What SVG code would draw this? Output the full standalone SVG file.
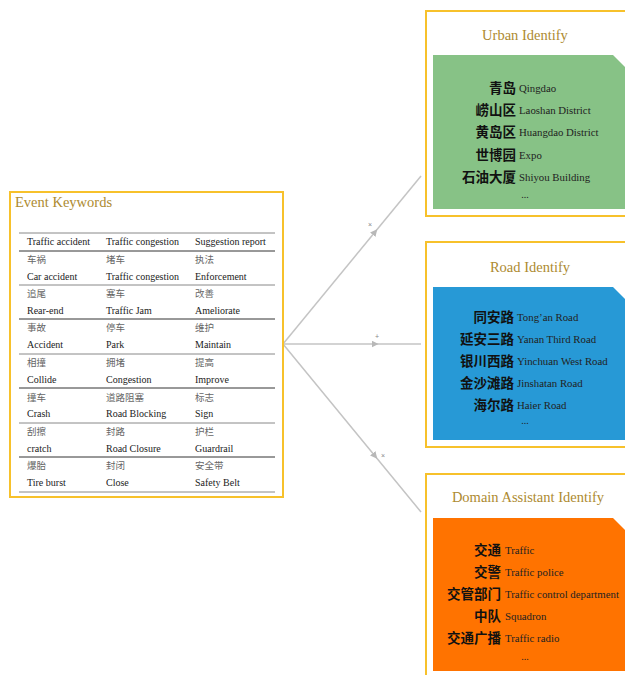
<svg xmlns="http://www.w3.org/2000/svg" width="625" height="675" viewBox="0 0 625 675">
<defs>
<style>
.frame{fill:#fff;stroke:#F7C12B;stroke-width:2}
.title{font-family:"Liberation Serif","Noto Sans CJK SC",serif;font-size:14.5px;fill:#AD8A30}
.th{font-family:"Liberation Serif","Noto Sans CJK SC",serif;font-size:10px;fill:#222}
.tc{font-family:"Noto Sans CJK SC",sans-serif;font-size:9.5px;fill:#666}
.rd{stroke:#333;stroke-width:1}
.rl{stroke:#888;stroke-width:1}
.cn{font-family:"Noto Sans CJK SC",sans-serif;font-weight:bold;font-size:13.5px;fill:#111;text-anchor:end}
.en{font-family:"Liberation Serif","Noto Sans CJK SC",serif;font-size:10.8px;fill:#222}
.dots{font-family:"Liberation Serif",serif;font-size:10px;fill:#222;text-anchor:middle}
.conn{fill:none;stroke:#C4C4C4;stroke-width:1.5}
.mk{font-family:"Liberation Sans",sans-serif;font-size:7px;fill:#888;text-anchor:middle}
</style>
<marker id="arr" viewBox="0 0 10 10" refX="5" refY="5" markerWidth="7" markerHeight="7" orient="auto" markerUnits="userSpaceOnUse">
<path d="M0,0 L10,5 L0,10 z" fill="#B8B8B8"/>
</marker>
</defs>
<rect width="625" height="675" fill="#fff"/>

<g id="connectors">
<path class="conn" d="M283,344 L375,232 L421,176" marker-mid="url(#arr)"/>
<path class="conn" d="M283,344 L375,344 L421,344" marker-mid="url(#arr)"/>
<path class="conn" d="M283,344 L375,456 L421,512" marker-mid="url(#arr)"/>
<text class="mk" x="370" y="227">×</text>
<text class="mk" x="377" y="339">+</text>
<text class="mk" x="383" y="458">×</text>
</g>

<g id="event-keywords">
<rect class="frame" x="10" y="192" width="273" height="305"/>
<text class="title" x="15" y="207">Event Keywords</text>
<line class="rl" x1="19" y1="233" x2="275" y2="233"/>
<line class="rd" x1="19" y1="251" x2="275" y2="251"/>
<line class="rl" x1="19" y1="285" x2="275" y2="285"/>
<line class="rd" x1="19" y1="319" x2="275" y2="319"/>
<line class="rl" x1="19" y1="354" x2="275" y2="354"/>
<line class="rd" x1="19" y1="388" x2="275" y2="388"/>
<line class="rl" x1="19" y1="423" x2="275" y2="423"/>
<line class="rd" x1="19" y1="457" x2="275" y2="457"/>
<line class="rl" x1="19" y1="492" x2="275" y2="492"/>
<text class="th" x="27" y="245">Traffic accident</text>
<text class="th" x="106" y="245">Traffic congestion</text>
<text class="th" x="195" y="245">Suggestion report</text>
<text class="tc" x="27" y="263">车祸</text>
<text class="tc" x="106" y="263">堵车</text>
<text class="tc" x="195" y="263">执法</text>
<text class="th" x="27" y="280">Car accident</text>
<text class="th" x="106" y="280">Traffic congestion</text>
<text class="th" x="195" y="280">Enforcement</text>
<text class="tc" x="27" y="297">追尾</text>
<text class="tc" x="106" y="297">塞车</text>
<text class="tc" x="195" y="297">改善</text>
<text class="th" x="27" y="314">Rear-end</text>
<text class="th" x="106" y="314">Traffic Jam</text>
<text class="th" x="195" y="314">Ameliorate</text>
<text class="tc" x="27" y="331">事故</text>
<text class="tc" x="106" y="331">停车</text>
<text class="tc" x="195" y="331">维护</text>
<text class="th" x="27" y="348">Accident</text>
<text class="th" x="106" y="348">Park</text>
<text class="th" x="195" y="348">Maintain</text>
<text class="tc" x="27" y="366">相撞</text>
<text class="tc" x="106" y="366">拥堵</text>
<text class="tc" x="195" y="366">提高</text>
<text class="th" x="27" y="383">Collide</text>
<text class="th" x="106" y="383">Congestion</text>
<text class="th" x="195" y="383">Improve</text>
<text class="tc" x="27" y="401">撞车</text>
<text class="tc" x="106" y="401">道路阻塞</text>
<text class="tc" x="195" y="401">标志</text>
<text class="th" x="27" y="417">Crash</text>
<text class="th" x="106" y="417">Road Blocking</text>
<text class="th" x="195" y="417">Sign</text>
<text class="tc" x="27" y="435">刮擦</text>
<text class="tc" x="106" y="435">封路</text>
<text class="tc" x="195" y="435">护栏</text>
<text class="th" x="27" y="452">cratch</text>
<text class="th" x="106" y="452">Road Closure</text>
<text class="th" x="195" y="452">Guardrail</text>
<text class="tc" x="27" y="469">爆胎</text>
<text class="tc" x="106" y="469">封闭</text>
<text class="tc" x="195" y="469">安全带</text>
<text class="th" x="27" y="486">Tire burst</text>
<text class="th" x="106" y="486">Close</text>
<text class="th" x="195" y="486">Safety Belt</text>
</g>

<g id="urban-identify">
<rect class="frame" x="426" y="11" width="215" height="205"/>
<text class="title" x="525" y="40" text-anchor="middle">Urban Identify</text>
<polygon points="433,55 613,55 628,70 628,209 433,209" fill="#87C286"/>
<text class="cn" x="516" y="93">青岛</text><text class="en" x="519" y="92">Qingdao</text>
<text class="cn" x="516" y="115">崂山区</text><text class="en" x="519" y="114">Laoshan District</text>
<text class="cn" x="516" y="137">黄岛区</text><text class="en" x="519" y="136">Huangdao District</text>
<text class="cn" x="516" y="160">世博园</text><text class="en" x="519" y="159">Expo</text>
<text class="cn" x="516" y="182">石油大厦</text><text class="en" x="519" y="181">Shiyou Building</text>
<text class="dots" x="525" y="198">...</text>
</g>

<g id="road-identify">
<rect class="frame" x="426" y="242" width="215" height="205"/>
<text class="title" x="530" y="272" text-anchor="middle">Road Identify</text>
<polygon points="433,287 613,287 628,302 628,440 433,440" fill="#2799D6"/>
<text class="cn" x="514" y="322">同安路</text><text class="en" x="517" y="321">Tong’an Road</text>
<text class="cn" x="514" y="344">延安三路</text><text class="en" x="517" y="343">Yanan Third Road</text>
<text class="cn" x="514" y="366">银川西路</text><text class="en" x="517" y="365">Yinchuan West Road</text>
<text class="cn" x="514" y="388">金沙滩路</text><text class="en" x="517" y="387">Jinshatan Road</text>
<text class="cn" x="514" y="410">海尔路</text><text class="en" x="517" y="409">Haier Road</text>
<text class="dots" x="525" y="424">...</text>
</g>

<g id="domain-assistant-identify">
<rect class="frame" x="426" y="474" width="215" height="215"/>
<text class="title" x="528" y="502" text-anchor="middle">Domain Assistant Identify</text>
<polygon points="433,518 613,518 628,533 628,671 433,671" fill="#FF7300"/>
<text class="cn" x="501" y="555">交通</text><text class="en" x="505" y="554">Traffic</text>
<text class="cn" x="501" y="577">交警</text><text class="en" x="505" y="576">Traffic police</text>
<text class="cn" x="501" y="599">交管部门</text><text class="en" x="505" y="598">Traffic control department</text>
<text class="cn" x="501" y="621">中队</text><text class="en" x="505" y="620">Squadron</text>
<text class="cn" x="501" y="643">交通广播</text><text class="en" x="505" y="642">Traffic radio</text>
<text class="dots" x="525" y="660">...</text>
</g>
</svg>
